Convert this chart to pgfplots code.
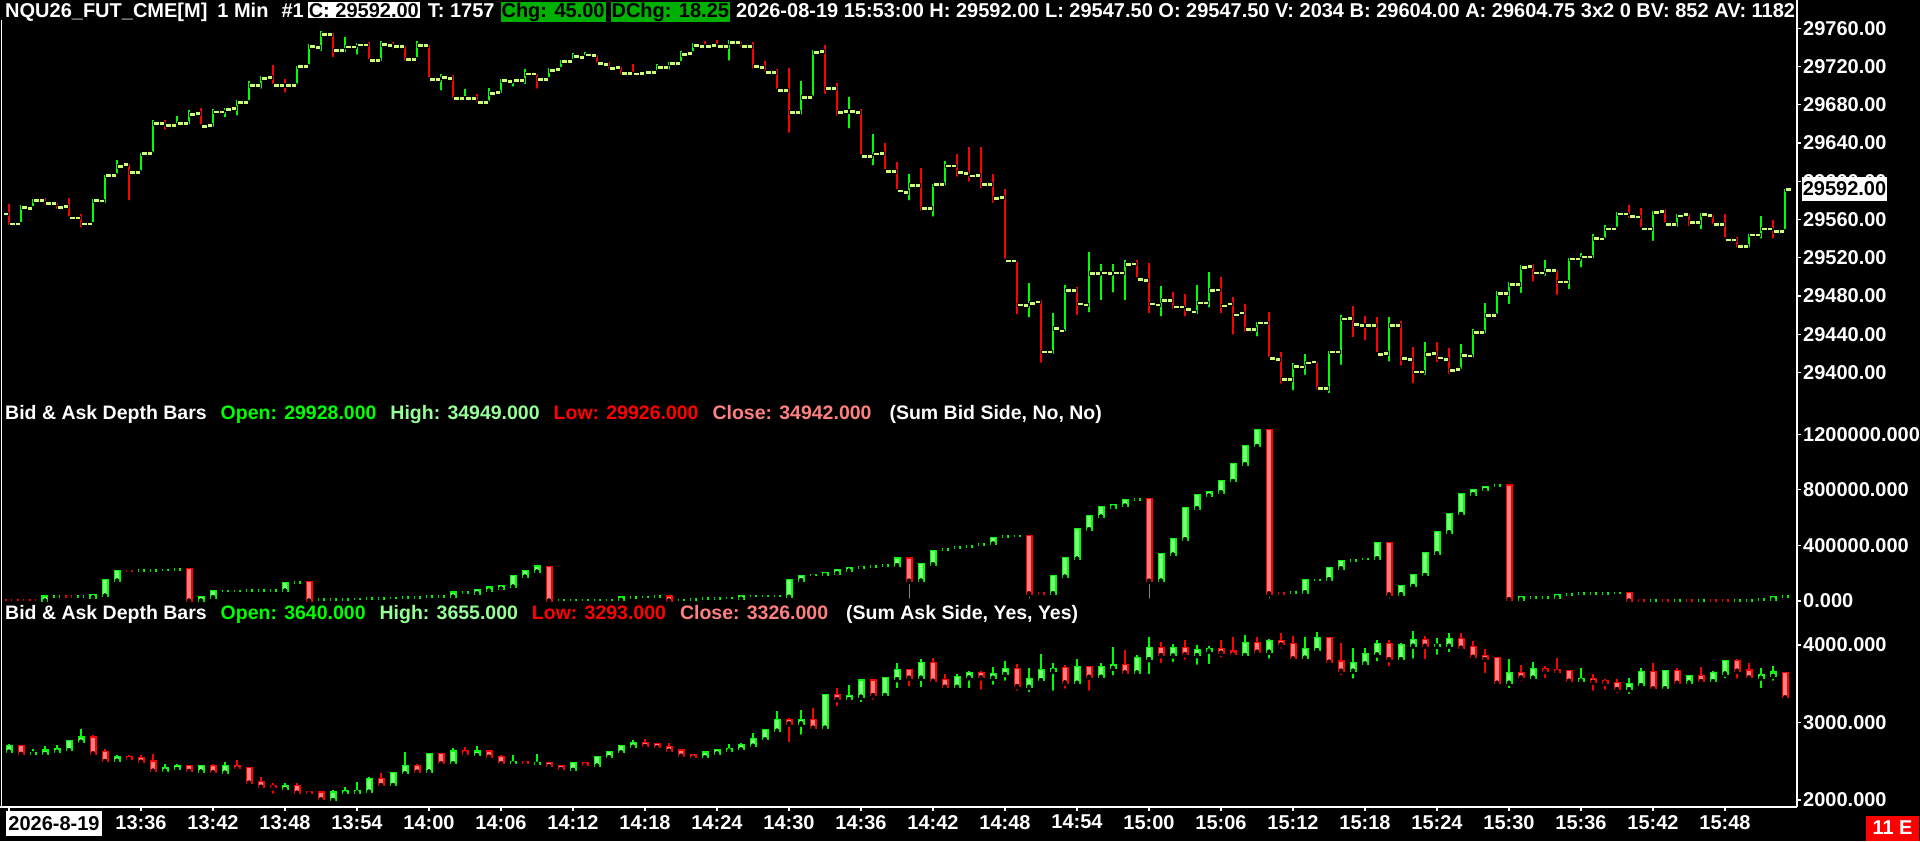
\documentclass[border=0pt]{standalone}
\usepackage{pgfplots}
\pgfplotsset{compat=1.18}
\usepackage{pgfplotstable}
\usepackage{fontspec}
\newfontfamily\cf{Liberation Sans}
\newcommand\tf{\cf\bfseries\fontsize{20pt}{24pt}\selectfont}
\newcommand\ttl{\cf\bfseries\fontsize{19.5pt}{23pt}\selectfont}
\definecolor{tickc}{RGB}{204,255,119}
\definecolor{upl}{RGB}{0,255,0}
\definecolor{dnl}{RGB}{255,0,0}
\definecolor{upf}{RGB}{128,255,128}
\definecolor{dnf}{RGB}{255,128,128}
\definecolor{hic}{RGB}{150,255,150}
\definecolor{clc}{RGB}{255,128,128}
\definecolor{chg}{RGB}{0,176,0}
\newcommand\hl[3]{{\setlength\fboxsep{1pt}\colorbox{#1}{\color{#2}#3}}}

% price bars, 1 min: i O H L C D (D=1 up)
\pgfplotstableread{
i O H L C D
0 29566 29576 29552 29555.5 0
1 29555.5 29575 29555 29573 1
2 29572 29581 29572 29580 1
3 29580 29582 29574 29577 0
4 29577 29577 29569 29573 0
5 29574 29582 29561 29562 0
6 29562 29566 29549.5 29555.5 0
7 29555.5 29581 29555 29580.5 1
8 29579.5 29607 29575 29606.5 1
9 29606.5 29622.5 29606 29616 1
10 29618 29618 29578 29609.75 0
11 29609.75 29629.5 29609 29629.5 1
12 29629.5 29664.25 29628 29661 1
13 29661 29664 29652 29659 0
14 29659 29668.5 29655.5 29661 1
15 29661 29674.75 29657.5 29670.5 1
16 29671.25 29676.5 29657.5 29657.75 0
17 29658.75 29675.5 29655 29672.75 1
18 29672.75 29676.5 29665 29675.5 1
19 29676.5 29685 29666.75 29683 1
20 29683 29705 29682.5 29700.5 1
21 29700.5 29710.25 29695 29708.25 1
22 29709 29721.75 29699.75 29700.5 0
23 29700.5 29707 29690.75 29700.5 0
24 29700.5 29720.75 29699.75 29720.75 1
25 29720.75 29743.75 29720 29741.5 1
26 29740.25 29757.25 29734.5 29753.75 1
27 29753.75 29755.5 29728 29737.5 0
28 29737.5 29751.25 29733.25 29741 1
29 29741 29744.5 29730.5 29743 1
30 29743 29745.75 29725.25 29727 0
31 29727 29746.75 29724 29743.75 1
32 29742.25 29745.75 29736.75 29741.5 0
33 29741.5 29741.5 29724 29727.75 0
34 29727.75 29746.75 29727.75 29742.5 1
35 29742.5 29742.5 29706.75 29706.75 0
36 29706.75 29712.5 29693 29709 1
37 29707.75 29711.25 29684.5 29687 0
38 29687 29696.5 29682.5 29687 1
39 29687 29691.5 29681 29682.75 0
40 29682.75 29697.5 29681.75 29692.25 1
41 29693.25 29706.75 29690.5 29705.5 1
42 29705 29706.75 29697 29705.5 1
43 29705.5 29717.25 29699.75 29712.5 1
44 29712.5 29712.5 29695 29706.75 0
45 29706.75 29718.25 29706.75 29716.5 1
46 29717.25 29727 29717.25 29725.5 1
47 29725.5 29734 29725.5 29731.25 1
48 29729.75 29735.25 29729.75 29732.5 1
49 29732.25 29732.25 29721.75 29723.5 0
50 29722.5 29725.25 29715.75 29718.25 0
51 29719.25 29719.25 29709.5 29713 0
52 29713 29722.75 29707.75 29712.5 0
53 29713 29714.75 29708.5 29714 1
54 29714 29722.5 29714 29719.25 1
55 29719.25 29724.5 29714.75 29723.5 1
56 29723.5 29736.5 29723.5 29733.25 1
57 29734 29744.5 29734 29742.5 1
58 29741.5 29746.75 29740.25 29741.5 0
59 29742.5 29748 29740.25 29741.5 0
60 29741.5 29748 29724.25 29745.75 1
61 29745.75 29745.75 29739 29741.5 0
62 29741.5 29745.75 29715.75 29720.75 0
63 29719.25 29726 29713 29714 0
64 29714 29717.25 29694 29695.25 0
65 29695.25 29719 29648.75 29672.25 0
66 29672.25 29705 29667.75 29688 1
67 29688 29737.5 29687 29735.25 1
68 29736 29742.5 29689.5 29697.5 0
69 29697.5 29703.25 29666.75 29672.25 0
70 29673.5 29688.75 29653.25 29673.5 1
71 29672.25 29675.75 29626 29626 0
72 29626 29649.75 29614.5 29628.75 1
73 29629.5 29640 29610.5 29610.5 0
74 29610.5 29620 29589.5 29590 0
75 29588.5 29608 29578 29596 1
76 29596 29614 29567 29572 0
77 29572 29597.25 29561 29597.25 1
78 29597.25 29621.5 29593.75 29616.25 1
79 29616.25 29628.75 29602.75 29609.75 0
80 29608.75 29635.5 29597.5 29606 0
81 29606.5 29635.5 29590.5 29597.25 0
82 29597.25 29608 29575.5 29582.5 0
83 29583.5 29592.25 29517 29517 0
84 29517 29517 29459 29470.75 0
85 29470.25 29493 29455.5 29472.25 1
86 29474 29475.75 29408 29421.75 0
87 29421.75 29461.75 29417.25 29446 1
88 29443.75 29491 29441 29485.75 1
89 29485.75 29489.5 29458 29472 0
90 29470.75 29525.75 29460.75 29503.5 1
91 29503.5 29513 29473.5 29504.25 1
92 29503.5 29513 29481.5 29504.25 1
93 29504.25 29517.5 29473.5 29513 1
94 29513.75 29517.5 29497.25 29497.25 0
95 29496.25 29514.75 29460 29472 0
96 29470.75 29490.25 29456.5 29475.5 1
97 29475.5 29484.5 29464.25 29468.75 0
98 29468.75 29481.5 29456.5 29466 0
99 29463.5 29491 29459 29473 1
100 29473 29505 29466 29485.75 1
101 29486.5 29500 29460 29469.75 0
102 29472 29479 29437.5 29460.5 0
103 29462.5 29471.25 29440 29445 0
104 29445 29453 29435.5 29452 1
105 29452 29463 29413.75 29414.5 0
106 29413.75 29421.5 29386 29393 0
107 29393 29409.25 29379 29406.75 1
108 29405.75 29419 29395.25 29410.25 1
109 29411 29411 29380 29383.5 0
110 29383.5 29422.5 29376.25 29421.5 1
111 29421.5 29459.75 29405.75 29456.25 1
112 29457 29469.5 29434.75 29450.25 0
113 29449.25 29459 29431.25 29449.25 0
114 29449.25 29458 29419 29419 0
115 29419.75 29458 29409.25 29449.25 1
116 29449.25 29453.75 29405 29414.5 0
117 29413.75 29426.5 29386.5 29400.5 0
118 29400.5 29432.25 29395.25 29419 1
119 29420 29431.25 29408.5 29415.5 0
120 29413.75 29425.25 29396.5 29402.5 0
121 29403.25 29430 29401.5 29418 1
122 29417.25 29445.75 29413.75 29442.25 1
123 29442.25 29472.25 29438.75 29459.75 1
124 29459.75 29485 29459 29482.75 1
125 29482.75 29494.5 29469.5 29492 1
126 29492 29512 29481 29510.25 1
127 29511 29513 29493 29504.25 0
128 29504.25 29517.5 29499 29507 1
129 29507 29507 29479 29494.75 0
130 29494.75 29520 29485 29519 1
131 29519 29524.5 29507.75 29521 1
132 29521 29545.25 29517.5 29540.75 1
133 29539.75 29554.75 29538.5 29550.5 1
134 29550.25 29567.5 29550.25 29566.25 1
135 29566.25 29575.5 29559.25 29563.5 0
136 29562.75 29572 29550.25 29550.25 0
137 29550.25 29568.5 29535.5 29567.5 1
138 29568.5 29570.5 29554.75 29554.75 0
139 29554.75 29565.25 29550.25 29564 1
140 29565.25 29565.25 29551.25 29557.25 0
141 29557.25 29567 29547.75 29565.25 1
142 29564.5 29564.5 29553 29554.75 0
143 29554.75 29565.25 29539 29539 0
144 29539 29541.75 29528.5 29532 0
145 29532 29545.25 29528.5 29544.25 1
146 29544.25 29564 29538 29550.25 1
147 29550.25 29559 29538 29547.75 0
148 29547.5 29592 29547.5 29592 1
}\price

% sum bid side depth
\pgfplotstableread{
i O H L C D
0 9000 9000 6000 6000 0
1 8000 8000 5000 5000 0
2 8000 8000 5000 5000 0
3 2400 31200 2400 31200 1
4 30000 32000 30000 32000 1
5 33000 33000 30000 30000 0
6 31000 33000 31000 33000 1
7 26400 43200 26400 43200 1
8 38400 151200 38400 151200 1
9 146400 216000 146400 216000 1
10 217000 217000 215000 215000 0
11 217000 219000 217000 219000 1
12 219000 221000 219000 221000 1
13 221000 223000 221000 223000 1
14 224000 228000 224000 228000 1
15 228000 228000 2400 2400 0
16 2400 26400 2400 26400 1
17 26400 72000 26400 72000 1
18 71000 73000 71000 73000 1
19 72000 74000 72000 74000 1
20 73000 75000 73000 75000 1
21 73000 75000 73000 75000 1
22 74000 76000 74000 76000 1
23 74400 127200 74400 127200 1
24 133000 135000 133000 135000 1
25 134400 134400 2400 2400 0
26 11000 13000 11000 13000 1
27 12000 14000 12000 14000 1
28 12000 14000 12000 14000 1
29 14000 16000 14000 16000 1
30 16000 18000 16000 18000 1
31 19000 21000 19000 21000 1
32 21000 23000 21000 23000 1
33 22000 24000 22000 24000 1
34 26000 28000 26000 28000 1
35 30000 32000 2400 32000 1
36 31000 33000 31000 33000 1
37 31200 60000 31200 60000 1
38 60000 62000 60000 62000 1
39 55200 79200 55200 79200 1
40 74400 96000 74400 96000 1
41 88800 108000 88800 108000 1
42 103200 180000 103200 180000 1
43 175200 216000 175200 216000 1
44 211200 247200 211200 247200 1
45 242400 242400 2400 2400 0
46 7000 9000 7000 9000 1
47 7000 9000 7000 9000 1
48 7000 9000 7000 9000 1
49 7000 9000 7000 9000 1
50 7000 9000 7000 9000 1
51 7200 24000 7200 24000 1
52 23000 25000 23000 25000 1
53 28000 30000 28000 30000 1
54 30000 32000 30000 32000 1
55 31200 31200 2400 2400 0
56 6000 8000 6000 8000 1
57 11000 13000 11000 13000 1
58 16000 18000 16000 18000 1
59 18000 20000 18000 20000 1
60 21000 23000 21000 23000 1
61 16800 33600 16800 33600 1
62 35000 37000 35000 37000 1
63 36000 38000 36000 38000 1
64 36000 38000 36000 38000 1
65 31200 151200 2400 151200 1
66 148800 177600 148800 177600 1
67 186000 188000 186000 188000 1
68 187200 199200 187200 199200 1
69 199200 220800 199200 220800 1
70 218400 235200 218400 235200 1
71 239000 241000 239000 241000 1
72 246000 248000 246000 248000 1
73 253000 255000 253000 255000 1
74 256800 304800 256800 304800 1
75 304800 304800 2400 146400 0
76 146400 264000 146400 264000 1
77 264000 360000 264000 360000 1
78 368000 371000 368000 371000 1
79 382000 385000 382000 385000 1
80 390000 393000 390000 393000 1
81 406000 410000 406000 410000 1
82 412800 453600 412800 453600 1
83 462000 465000 462000 465000 1
84 466000 469000 466000 469000 1
85 468000 468000 2400 55200 0
86 57000 57000 54000 54000 0
87 55200 180000 55200 180000 1
88 175200 307200 175200 307200 1
89 304800 516000 304800 516000 1
90 516000 612000 516000 612000 1
91 607200 674400 607200 674400 1
92 674400 691200 674400 691200 1
93 686400 727200 686400 727200 1
94 730000 734000 730000 734000 1
95 732000 732000 2400 146400 0
96 146400 338400 146400 338400 1
97 333600 444000 333600 444000 1
98 444000 667200 444000 667200 1
99 667200 763200 667200 763200 1
100 758400 784800 758400 784800 1
101 782400 864000 782400 864000 1
102 864000 986400 864000 986400 1
103 984000 1116000 984000 1116000 1
104 1116000 1231200 1116000 1231200 1
105 1231200 1231200 2400 55200 0
106 57000 57000 54000 54000 0
107 60000 64000 60000 64000 1
108 62400 151200 62400 151200 1
109 150000 153000 150000 153000 1
110 156000 235200 156000 235200 1
111 235200 288000 235200 288000 1
112 289000 292000 289000 292000 1
113 301000 304000 301000 304000 1
114 307200 415200 307200 415200 1
115 415200 415200 2400 48000 0
116 48000 108000 48000 108000 1
117 108000 187200 108000 187200 1
118 187200 343200 187200 343200 1
119 343200 494400 343200 494400 1
120 494400 626400 494400 626400 1
121 626400 768000 626400 768000 1
122 768000 799200 768000 799200 1
123 799200 818400 799200 818400 1
124 828000 832000 828000 832000 1
125 830400 830400 12000 12000 0
126 12000 26400 12000 26400 1
127 25000 28000 25000 28000 1
128 26000 29000 26000 29000 1
129 26400 40800 26400 40800 1
130 46000 49000 46000 49000 1
131 53000 56000 53000 56000 1
132 53000 56000 53000 56000 1
133 54000 57000 54000 57000 1
134 56000 59000 56000 59000 1
135 55200 55200 2400 2400 0
136 3000 3000 1000 1000 0
137 1000 3000 1000 3000 1
138 3000 3000 1000 1000 0
139 1000 3000 1000 3000 1
140 3000 3000 1000 1000 0
141 1000 3000 1000 3000 1
142 3000 3000 1000 1000 0
143 3000 6000 1000 1000 0
144 1000 3000 1000 3000 1
145 4000 6000 4000 6000 1
146 11000 14000 11000 14000 1
147 12000 28800 12000 28800 1
148 29928 34949 29926 34942 1
}\bid

% sum ask side depth
\pgfplotstableread{
i O H L C D
0 2624 2723 2615 2701 1
1 2701 2710 2594 2594 0
2 2602 2654 2559 2606 1
3 2594 2701 2581 2637 1
4 2624 2710 2611 2658 1
5 2645 2774 2615 2762 1
6 2753 2916 2740 2805 1
7 2805 2839 2594 2602 0
8 2615 2658 2461 2504 0
9 2508 2581 2452 2559 1
10 2547 2581 2525 2529 0
11 2538 2581 2482 2495 0
12 2495 2594 2345 2379 0
13 2379 2465 2366 2409 1
14 2401 2461 2388 2443 1
15 2439 2439 2366 2375 0
16 2366 2448 2366 2439 1
17 2439 2461 2353 2357 0
18 2353 2495 2345 2439 1
19 2439 2516 2396 2409 0
20 2409 2418 2215 2224 0
21 2228 2293 2138 2172 0
22 2181 2224 2056 2164 0
23 2142 2215 2129 2181 1
24 2181 2215 2086 2095 0
25 2104 2112 2086 2086 0
26 2095 2108 1979 2009 0
27 2000 2129 1992 2095 1
28 2086 2164 2065 2108 1
29 2095 2237 2095 2117 1
30 2108 2293 2099 2267 1
31 2267 2345 2181 2194 0
32 2194 2353 2185 2345 1
33 2345 2615 2336 2439 1
34 2439 2461 2310 2366 0
35 2366 2594 2366 2594 1
36 2594 2602 2431 2474 0
37 2474 2675 2465 2624 1
38 2624 2688 2529 2602 0
39 2581 2701 2572 2624 1
40 2624 2637 2538 2559 0
41 2559 2581 2465 2474 0
42 2474 2581 2474 2486 1
43 2482 2495 2409 2474 0
44 2465 2594 2465 2474 1
45 2474 2482 2431 2439 0
46 2439 2452 2388 2401 0
47 2388 2486 2388 2474 1
48 2474 2482 2409 2452 0
49 2443 2551 2443 2551 1
50 2551 2615 2551 2615 1
51 2615 2710 2602 2701 1
52 2688 2774 2624 2731 1
53 2731 2783 2688 2697 0
54 2723 2731 2645 2680 0
55 2680 2740 2624 2637 0
56 2637 2645 2559 2572 0
57 2581 2594 2538 2551 0
58 2551 2624 2538 2611 1
59 2602 2654 2581 2645 1
60 2637 2723 2624 2658 1
61 2654 2731 2645 2710 1
62 2701 2860 2658 2783 1
63 2783 2912 2774 2903 1
64 2895 3149 2839 3032 1
65 3032 3054 2723 2989 0
66 2989 3161 2817 3032 1
67 3032 3183 2925 2934 0
68 2934 3355 2916 3355 1
69 3355 3450 3183 3303 0
70 3303 3484 3239 3342 1
71 3334 3548 3239 3540 1
72 3540 3557 3269 3355 0
73 3355 3591 3290 3570 1
74 3561 3763 3419 3677 1
75 3677 3686 3441 3579 0
76 3579 3815 3432 3772 1
77 3772 3828 3527 3540 0
78 3548 3626 3411 3462 0
79 3462 3626 3440 3583 1
80 3583 3669 3419 3634 1
81 3634 3664 3398 3583 0
82 3579 3720 3462 3626 1
83 3626 3793 3514 3686 1
84 3686 3755 3385 3471 0
85 3462 3699 3368 3557 1
86 3548 3884 3527 3677 1
87 3669 3772 3385 3686 1
88 3699 3742 3411 3518 0
89 3514 3815 3484 3720 1
90 3712 3720 3385 3591 0
91 3591 3772 3548 3720 1
92 3707 3978 3583 3742 1
93 3742 3935 3634 3647 0
94 3647 3871 3626 3828 1
95 3819 4099 3600 3957 1
96 3957 4043 3742 3871 0
97 3867 4013 3755 3957 1
98 3957 4065 3785 3880 0
99 3871 4000 3720 3935 1
100 3927 3987 3729 3944 1
101 3944 4065 3815 3901 0
102 3914 4099 3849 3880 0
103 3871 4129 3806 4021 1
104 4021 4107 3892 3914 0
105 3914 4073 3798 4052 1
106 4052 4151 3927 4009 0
107 4009 4116 3815 3828 0
108 3837 4099 3772 3948 1
109 3935 4172 3927 4086 1
110 4086 4099 3772 3785 0
111 3785 4021 3583 3669 0
112 3669 3957 3540 3763 1
113 3763 3957 3707 3884 1
114 3880 4065 3763 4013 1
115 4013 4065 3699 3819 0
116 3819 4021 3763 4000 1
117 3991 4180 3798 4065 1
118 4065 4120 3793 3991 0
119 3991 4094 3849 4000 1
120 3991 4159 3884 4077 1
121 4077 4151 3957 3966 0
122 3970 4052 3806 3849 0
123 3858 3948 3613 3819 0
124 3828 3837 3475 3514 0
125 3514 3815 3419 3634 1
126 3634 3742 3505 3583 0
127 3579 3785 3561 3686 1
128 3686 3729 3548 3664 0
129 3677 3828 3634 3656 0
130 3664 3664 3527 3540 0
131 3540 3699 3484 3561 1
132 3561 3626 3385 3527 0
133 3535 3557 3398 3514 0
134 3505 3557 3355 3432 0
135 3432 3570 3342 3493 1
136 3484 3699 3454 3647 1
137 3647 3772 3432 3441 0
138 3441 3677 3441 3664 1
139 3664 3707 3505 3514 0
140 3514 3604 3514 3604 1
141 3604 3720 3505 3535 0
142 3535 3669 3505 3634 1
143 3634 3793 3548 3793 1
144 3793 3815 3540 3669 0
145 3669 3763 3548 3583 0
146 3579 3699 3419 3613 1
147 3604 3729 3514 3643 1
148 3640 3655 3293 3326 0
}\ask

\pgfplotsset{
  pane/.style={scale only axis, width=1794pt, xmin=-0.5, xmax=149,
    axis y line*=right, scaled y ticks=false,
    y axis line style={draw=white, line width=1.2pt, -},
    ytick pos=right, tick align=outside, major tick length=4pt,
    ytick style={draw=white, line width=1.2pt},
    yticklabel style={font=\tf, text=white, inner sep=0pt, anchor=west, xshift=2pt},
    /pgf/number format/assume math mode=true},
}
% wick from L to H
\newcommand\wicks[4]{\addplot[only marks, mark=none, restrict expr to domain={\thisrow{D}}{#2},
  error bars/.cd, y dir=plus, y explicit, error mark=none,
  error bar style={draw=#3, line width=#4}]
  table[x=i, y=L, y error expr=\thisrow{H}-\thisrow{L}] {#1};}
% candle body between O and C: outline layer padded by #5 (about 1.2 px), fill layer inside
\newcommand\bodies[5]{%
  \addplot[only marks, mark=none, restrict expr to domain={\thisrow{D}}{#2},
  error bars/.cd, y dir=plus, y explicit, error mark=none,
  error bar style={draw=#3, line width=7pt}]
  table[x=i, y expr={min(\thisrow{O},\thisrow{C})-#5}, y error expr={abs(\thisrow{C}-\thisrow{O})+2*#5}] {#1};
  \addplot[only marks, mark=none, restrict expr to domain={\thisrow{D}}{#2},
  error bars/.cd, y dir=plus, y explicit, error mark=none,
  error bar style={draw=#4, line width=4.6pt}]
  table[x=i, y expr={min(\thisrow{O},\thisrow{C})}, y error expr={abs(\thisrow{C}-\thisrow{O})}] {#1};}

\begin{document}
\begin{tikzpicture}
\fill[black] (0pt,0pt) rectangle (1920pt,841pt);

% price pane
\begin{axis}[pane, at={(3pt,436pt)}, anchor=south west, height=405pt,
  axis x line=none,
  ymin=29365.8, ymax=29789.8, ytick={29400,29440,...,29760},
  yticklabel={\pgfmathprintnumber[fixed,fixed zerofill,precision=2,1000 sep={}]{\tick}}]
\wicks{\price}{0.5:1.5}{upl}{1.4pt}
\wicks{\price}{-0.5:0.5}{dnl}{1.4pt}
\addplot[only marks, mark=square*, mark size=2.6pt, mark options={draw=none, fill=tickc, yscale=0.7}]
  table[x expr=\thisrow{i}-0.27, y=O] {\price};
\addplot[only marks, mark=square*, mark size=2.6pt, mark options={draw=none, fill=tickc, yscale=0.7}]
  table[x expr=\thisrow{i}+0.27, y=C] {\price};
\end{axis}

% bid depth pane
\begin{axis}[pane, at={(3pt,236pt)}, anchor=south west, height=200pt,
  axis x line=none,
  ymin=-28800, ymax=1411200, ytick={0,400000,800000,1200000},
  yticklabel={\pgfmathprintnumber[fixed,fixed zerofill,precision=3,1000 sep={}]{\tick}}]
\wicks{\bid}{-0.5:1.5}{gray}{1pt}
\bodies{\bid}{0.5:1.5}{upl}{upf}{8600}
\bodies{\bid}{-0.5:0.5}{dnl}{dnf}{8600}
\end{axis}

% ask depth pane with time axis
\begin{axis}[pane, at={(3pt,34pt)}, anchor=south west, height=202pt,
  ymin=1909.7, ymax=4516, ytick={2000,3000,4000},
  yticklabel={\pgfmathprintnumber[fixed,fixed zerofill,precision=3,1000 sep={}]{\tick}},
  axis x line*=bottom, x axis line style={draw=white, line width=1.2pt, -},
  xtick={0,11,17,23,29,35,41,47,53,59,65,71,77,83,89,95,101,107,113,119,125,131,137,143},
  xticklabels={{},13:36,13:42,13:48,13:54,14:00,14:06,14:12,14:18,14:24,14:30,14:36,14:42,14:48,14:54,15:00,15:06,15:12,15:18,15:24,15:30,15:36,15:42,15:48},
  xtick style={draw=white, line width=1.2pt},
  xticklabel style={font=\tf, text=white, inner sep=0pt, anchor=north, yshift=-4pt}]
\wicks{\ask}{0.5:1.5}{upl}{1.2pt}
\wicks{\ask}{-0.5:0.5}{dnl}{1.2pt}
\bodies{\ask}{0.5:1.5}{upl}{upf}{15}
\bodies{\ask}{-0.5:0.5}{dnl}{dnf}{15}
\end{axis}

\draw[white, line width=1.2pt] (1.5pt,34pt) -- (1.5pt,821pt);
\draw[white, line width=1.2pt] (1797pt,34pt) -- (1797pt,821pt);
\draw[white, line width=1.2pt] (0pt,34pt) -- (1797pt,34pt);

% header line
\node[anchor=west, inner sep=0pt, text=white, font=\tf] at (5pt,829pt)
 {NQU26\_FUT\_CME[M]\hspace{10pt}1 Min\hspace{13pt}\#1\hspace{4pt}\hl{white}{black}{C: 29592.00}\hspace{8pt}T: 1757\hspace{6pt}\hl{chg}{black}{Chg: 45.00}\hspace{5pt}\hl{chg}{black}{DChg: 18.25}\hspace{6pt}2026-08-19 15:53:00 H: 29592.00 L: 29547.50 O: 29547.50 V: 2034 B: 29604.00 A: 29604.75 3x2 0 BV: 852 AV: 1182};

% pane titles
\node[anchor=west, inner sep=0pt, font=\ttl] at (5pt,426pt)
 {\textcolor{white}{Bid \& Ask Depth Bars}\hspace{14pt}\textcolor{upl}{Open: 29928.000}\hspace{14pt}\textcolor{hic}{High: 34949.000}\hspace{14pt}\textcolor{dnl}{Low: 29926.000}\hspace{14pt}\textcolor{clc}{Close: 34942.000}\hspace{18pt}\textcolor{white}{(Sum Bid Side, No, No)}};
\node[anchor=west, inner sep=0pt, font=\ttl] at (5pt,226pt)
 {\textcolor{white}{Bid \& Ask Depth Bars}\hspace{14pt}\textcolor{upl}{Open: 3640.000}\hspace{14pt}\textcolor{hic}{High: 3655.000}\hspace{14pt}\textcolor{dnl}{Low: 3293.000}\hspace{14pt}\textcolor{clc}{Close: 3326.000}\hspace{18pt}\textcolor{white}{(Sum Ask Side, Yes, Yes)}};

% last price marker, date and status boxes
\node[fill=white, text=black, inner sep=1pt, minimum width=83pt, minimum height=24pt, font=\tf] at (1844.5pt,652pt) {29592.00};
\node[fill=white, text=black, inner sep=2pt, minimum width=90pt, minimum height=25pt, font=\tf] at (54pt,17.5pt) {2026-8-19};
\node[fill=red, text=white, inner sep=2pt, minimum width=53pt, minimum height=25pt, font=\tf] at (1892.5pt,13pt) {11 E};

\pgfresetboundingbox
\path[use as bounding box] (0pt,0pt) rectangle (1920pt,841pt);
\end{tikzpicture}
\end{document}
